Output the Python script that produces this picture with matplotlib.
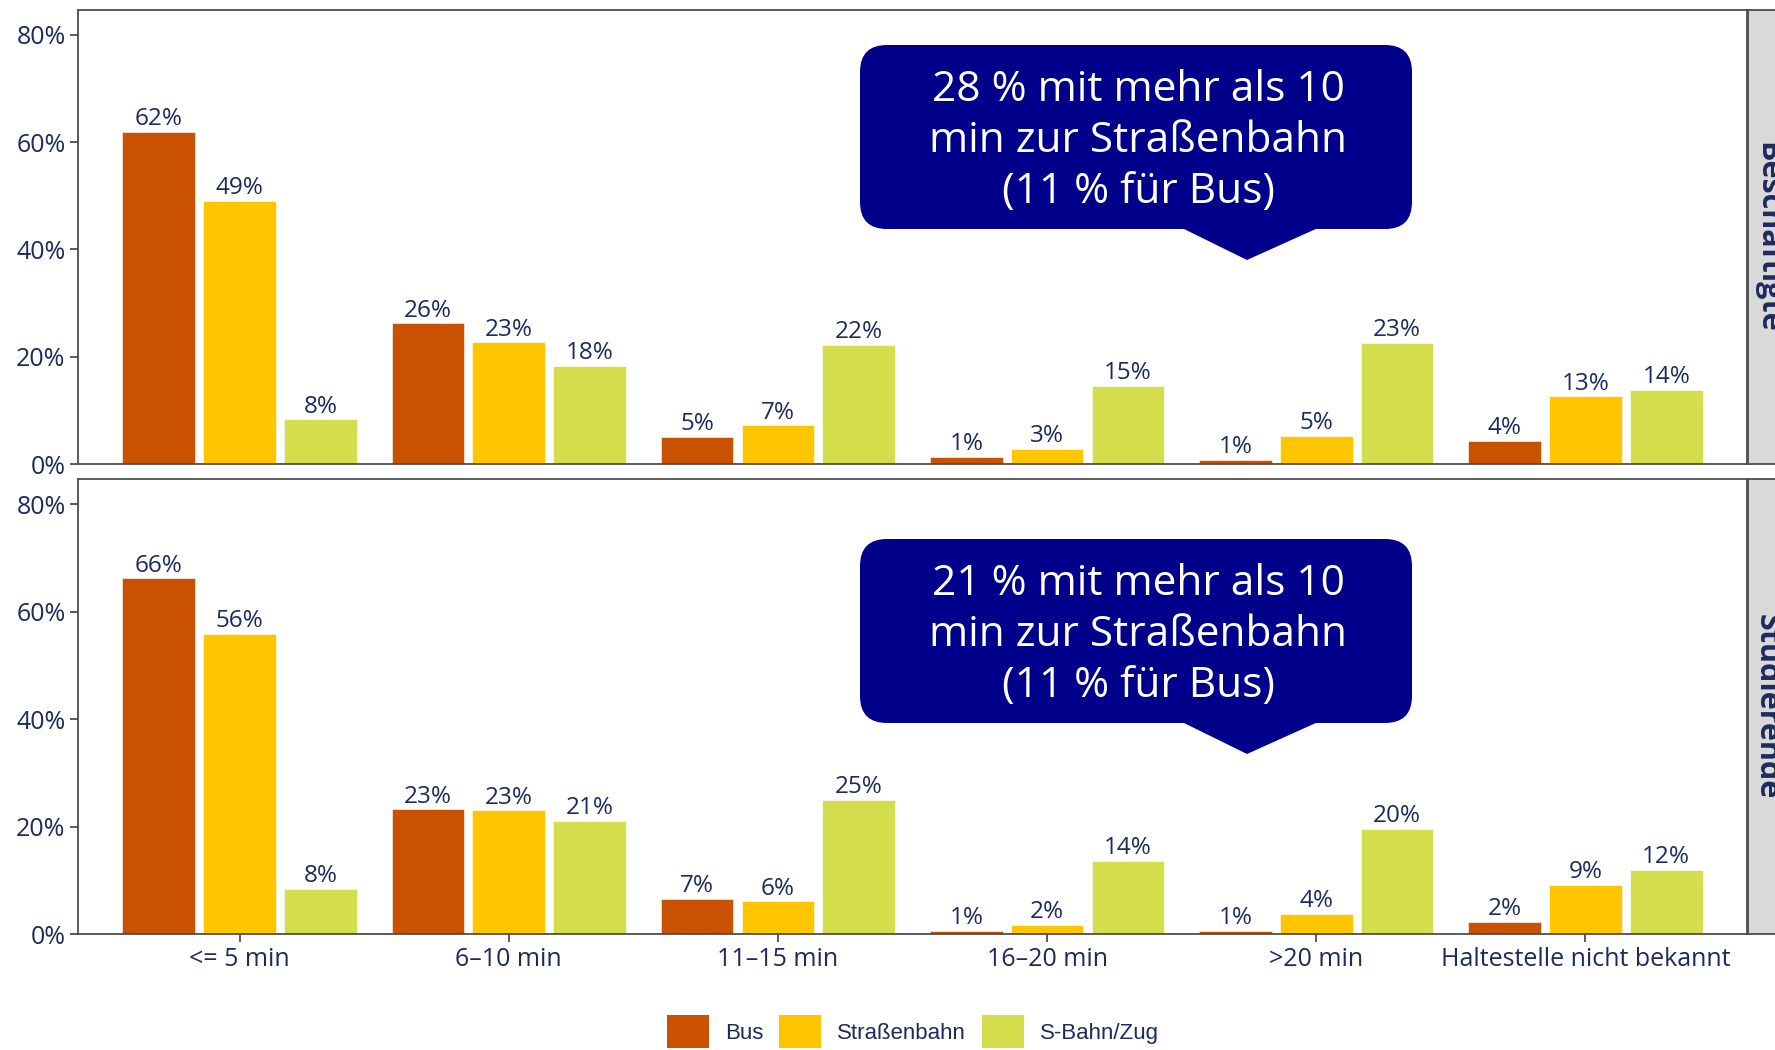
import numpy as np
import matplotlib.pyplot as plt
from matplotlib.patches import FancyBboxPatch, Polygon, Patch
from matplotlib.transforms import IdentityTransform

categories = ["<= 5 min", "6–10 min", "11–15 min", "16–20 min", ">20 min",
              "Haltestelle nicht bekannt"]
modes = ["Bus", "Straßenbahn", "S-Bahn/Zug"]
colors = ["#C85200", "#FFC600", "#D4DE4C"]
groups = ["Beschäftigte", "Studierende"]

# shares in percent
besch_bus = [62.0, 26.2, 5.0, 1.3, 0.8, 4.3]
besch_tram = [49.1, 22.7, 7.2, 2.8, 5.3, 12.6]
besch_train = [8.3, 18.3, 22.2, 14.6, 22.6, 13.8]
stud_bus = [66.2, 23.2, 6.6, 0.6, 0.6, 2.3]
stud_tram = [55.9, 23.0, 6.1, 1.7, 3.8, 9.2]
stud_train = [8.4, 21.1, 24.9, 13.6, 19.6, 11.9]

callouts = ["28 % mit mehr als 10\nmin zur Straßenbahn\n(11 % für Bus)",
            "21 % mit mehr als 10\nmin zur Straßenbahn\n(11 % für Bus)"]

W, H = 1775, 1050
navy = "#1c2a5e"
edge = "#4d4d4d"
plt.rcParams['font.family'] = ['Open Sans', 'DejaVu Sans']

fig = plt.figure(figsize=(W / 100, H / 100), dpi=100)

panels = [(10, 464), (479, 934)]
data = [[besch_bus, besch_tram, besch_train], [stud_bus, stud_tram, stud_train]]
x = np.arange(len(categories))
left, right = 78, 1747

for p, (top, bot) in enumerate(panels):
    ax = fig.add_axes([left / W, (H - bot) / H, (right - left) / W, (bot - top) / H])
    for i, vals in enumerate(data[p]):
        pos = x + (i - 1) * 0.3
        ax.bar(pos, vals, width=0.27, color=colors[i], label=modes[i],
               edgecolor="white", linewidth=0.4)
        for xx, v in zip(pos, vals):
            ax.annotate(f"{v:.0f}%", (xx, v), xytext=(0, 0.5), textcoords="offset points",
                        ha="center", va="bottom", fontsize=17.5, color=navy)
    ax.set_xlim(-0.6, 5.6)
    ax.set_ylim(0, 84.66)
    ax.set_yticks([0, 20, 40, 60, 80])
    ax.set_yticklabels([f"{t}%" for t in [0, 20, 40, 60, 80]])
    ax.set_xticks(x)
    ax.tick_params(labelsize=18, labelcolor=navy, color=edge, width=1.3, length=6, pad=3)
    if p == 1:
        ax.set_xticklabels(categories)
    else:
        ax.set_xticklabels([])
        ax.tick_params(axis="x", length=0)
    for s in ax.spines.values():
        s.set_color(edge)
        s.set_linewidth(1.3)

    # facet strip on the right
    sax = fig.add_axes([(right + 1) / W, (H - bot) / H, 60 / W, (bot - top) / H])
    sax.set_facecolor("#d9d9d9")
    sax.set_xticks([])
    sax.set_yticks([])
    for s in sax.spines.values():
        s.set_color(edge)
        s.set_linewidth(1.3)
    fig.text(1767 / W, (H - (top + bot) / 2) / H, groups[p], rotation=-90,
             ha="center", va="center", fontsize=22, fontweight="bold", color=navy)

# callout boxes
tops = [45, 539]
for p, ty in enumerate(tops):
    bx0, bx1 = 860, 1412
    by0, by1 = ty, ty + 184
    box = FancyBboxPatch((bx0, H - by1), bx1 - bx0, by1 - by0,
                         boxstyle="round,pad=0,rounding_size=27",
                         transform=IdentityTransform(), facecolor="#00008B",
                         edgecolor="none")
    fig.add_artist(box)
    tri = Polygon([(1182, H - by1 + 1), (1318, H - by1 + 1), (1247, H - by1 - 31)],
                  closed=True, transform=IdentityTransform(), facecolor="#00008B",
                  edgecolor="none")
    fig.add_artist(tri)
    fig.text(1138 / W, (H - (by0 + by1) / 2 - 4) / H, callouts[p], ha="center",
             va="center", fontsize=30.5, color="white", linespacing=1.27)

handles = [Patch(facecolor=c, edgecolor="none") for c in colors]
leg = fig.legend(handles, modes, loc="upper center", bbox_to_anchor=(913 / W, 1 - 1004 / H),
                 ncol=3, frameon=False, handlelength=1.9, handleheight=1.9,
                 handletextpad=0.72, columnspacing=0.72, borderpad=0,
                 prop={"family": "Liberation Sans", "size": 16})
for t in leg.get_texts():
    t.set_color(navy)

fig.savefig("out.png", dpi=100)
